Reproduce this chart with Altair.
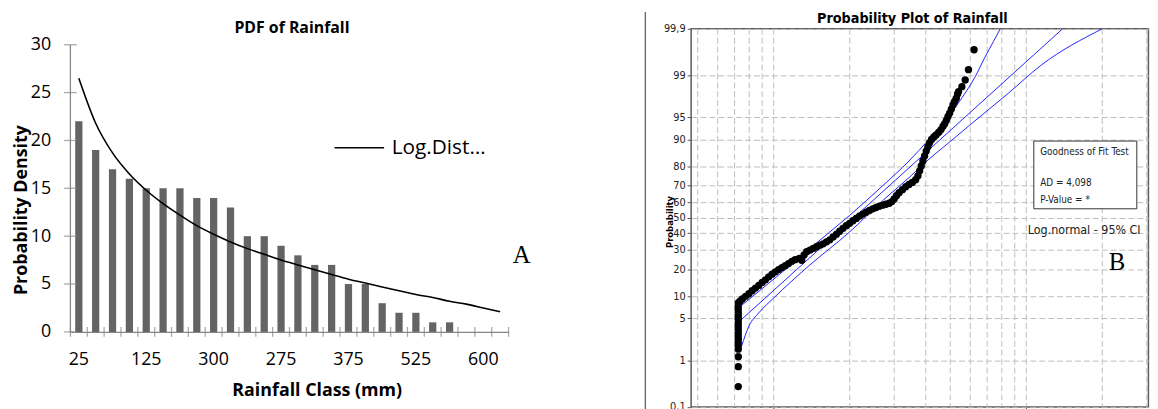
import json
from statistics import NormalDist

import altair as alt
import pandas as pd

# ---------------- Panel A : PDF of Rainfall ----------------
class_index = list(range(26))
class_tick_positions = [0, 4, 8, 12, 16, 20, 24]
class_tick_labels = ["25", "125", "300", "275", "375", "525", "600"]
bar_density = [22, 19, 17, 16, 15, 15, 15, 14, 14, 13, 10, 10, 9, 8, 7, 7, 5, 5, 3, 2, 2, 1, 1]
lognormal_density = [26.5, 21.8, 18.7, 16.5, 14.8, 13.4, 12.2, 11.1, 10.2, 9.4, 8.7, 8.1, 7.5,
                     7.0, 6.5, 6.0, 5.5, 5.1, 4.7, 4.3, 3.9, 3.6, 3.2, 2.9, 2.5, 2.1]
density_ticks = [0, 5, 10, 15, 20, 25, 30]
legend_label = "Log.Dist…"
title_a = "PDF of Rainfall"

# ---------------- Panel B : Probability plot ----------------
stack_mm = [72.4, 72.4, 72.4, 72.4, 72.4, 72.4, 72.4, 72.4, 72.4,
            72.4, 72.4, 72.4, 72.4, 72.4, 72.4, 72.4, 72.4, 72.4]
stack_pct = [0.29, 0.75, 1.16, 1.59, 1.82, 2.08, 2.36, 2.68, 3.03,
             3.42, 3.85, 4.33, 4.85, 5.40, 6.02, 6.69, 7.42, 8.21]
band_mm = [73.5, 75.1, 77.4, 79.8, 82.2, 84.7, 87.3, 90.0, 92.7, 95.6,
           98.5, 101.5, 104.6, 107.8, 111.1, 114.5, 118.0, 121.6, 126.4, 129.1,
           131.9, 135.1, 139.2, 143.4, 147.8, 152.4, 157.0, 161.8, 166.8, 171.9,
           177.2, 182.5, 188.1, 193.9, 199.8, 205.9, 212.2, 218.7, 225.4, 232.3,
           239.3, 246.6, 254.2, 261.9, 270.0, 278.2, 286.7, 293.7, 299.9, 306.3,
           313.7, 323.3, 333.3, 343.5, 353.9, 364.8, 372.5, 378.2, 383.9, 389.7,
           395.7, 401.7, 407.7, 414.0, 421.5, 430.5, 439.5, 450.3, 459.8, 468.3,
           475.4, 482.6, 489.9, 497.3, 504.9, 512.6, 520.3, 528.3, 534.6, 539.5,
           555.9, 573.0, 590.4, 621.4]
band_pct = [8.63, 9.24, 9.98, 10.75, 11.68, 12.55, 13.46, 14.55, 15.55, 16.75,
            17.85, 18.86, 19.88, 20.81, 21.74, 22.72, 23.86, 24.70, 25.40, 24.38,
            27.16, 28.98, 29.91, 30.85, 31.81, 32.78, 33.55, 34.75, 35.95, 37.79,
            39.43, 41.31, 43.21, 44.91, 46.41, 48.13, 49.64, 51.16, 52.45, 53.73,
            54.80, 55.87, 56.72, 57.57, 58.20, 58.83, 59.46, 60.50, 62.15, 64.18,
            65.97, 67.75, 69.46, 70.77, 71.88, 73.31, 75.41, 77.88, 80.20, 82.38,
            84.40, 86.26, 87.74, 89.00, 89.99, 90.72, 91.25, 91.92, 92.55, 93.28,
            93.82, 94.45, 95.14, 95.66, 96.23, 96.77, 97.14, 97.48, 97.86, 98.05,
            98.40, 98.79, 99.23, 99.70]
fit_mm = [74.7, 1392.0]
fit_pct = [4.86, 99.9]
upper_mm = [74.7, 103.0, 139.2, 199.8, 270.0, 343.5, 411.5, 492.8, 555.9, 627.1, 686.4, 740.1, 789.0]
upper_pct = [7.66, 16.9, 30.9, 51.6, 70.0, 82.4, 90.0, 95.1, 97.5, 98.94, 99.57, 99.80, 99.9]
lower_mm = [74.7, 79.8, 87.3, 100.0, 139.2, 199.8, 270.0, 343.5, 411.5, 492.8, 590.4, 847.2, 1144.6, 1998.0]
lower_pct = [1.82, 3.85, 6.02, 9.51, 22.1, 40.9, 61.1, 74.5, 83.1, 89.0, 93.3, 97.9, 99.37, 99.9]
prob_ticks = [0.1, 1, 5, 10, 20, 30, 40, 50, 60, 70, 80, 90, 95, 99, 99.9]
rain_grid_mm = [50, 60, 70, 80, 90, 100, 200, 300, 400, 500, 600, 700, 800, 900, 1000, 2000, 3000]
rain_major_mm = [100, 1000]
gof_lines = ["Goodness of Fit Test", "AD = 4,098", "P-Value = *"]
title_b = "Probability Plot of  Rainfall"

# ---------------- layout / style ----------------
A_W, A_H = 442.4, 306
B_W, B_H = 461.7, 381.7
FONT_A = "Open Sans"
FONT_B = "Liberation Sans Narrow, DejaVu Sans Condensed, Liberation Sans, sans-serif"
AXIS_GRAY = "#878787"
GRID_GRAY = "#bdbdbd"

# ---------- Panel A ----------
cls_scale = alt.Scale(domain=class_index, paddingInner=0, paddingOuter=0)
dens_scale = alt.Scale(domain=[0, 31.66], nice=False, zero=True)
label_expr_a = (f"{json.dumps(class_tick_labels)}"
                f"[indexof({json.dumps(class_tick_positions)}, datum.value)]")
x_axis_a = alt.Axis(values=class_tick_positions, labelExpr=label_expr_a, labelAngle=0,
                    labelFont=FONT_A, labelFontSize=18, labelColor="#000000", labelPadding=19,
                    ticks=False, tickSize=0, domainColor=AXIS_GRAY, domainWidth=1.3,
                    title="Rainfall Class (mm)", titleFont=FONT_A, titleFontSize=18,
                    titleFontWeight="bold", titleColor="#000000", titleX=248.7, titleY=59,
                    titleAlign="center", titleBaseline="middle")
y_axis_a = alt.Axis(values=density_ticks, domain=False, ticks=False, tickSize=0, grid=False,
                    labelFont=FONT_A, labelFontSize=18, labelColor="#000000", labelPadding=20,
                    title="Probability Density", titleFont=FONT_A, titleFontSize=18,
                    titleFontWeight="bold", titleColor="#000000", titleAngle=270,
                    titleX=-49.7, titleY=182.5, titleAlign="center", titleBaseline="middle")


def xa(**kw):
    return alt.X("cls:O", scale=cls_scale, axis=x_axis_a, **kw)


def ya(field):
    return alt.Y(f"{field}:Q", scale=dens_scale, axis=y_axis_a)


bars_df = pd.DataFrame({"cls": class_index[:len(bar_density)], "density": bar_density})
curve_df = pd.DataFrame({"cls": class_index, "density": lognormal_density, "series": legend_label})
ytick_df = pd.DataFrame({"density": density_ticks})
yline_df = pd.DataFrame({"lo": [density_ticks[0]], "hi": [density_ticks[-1]]})
xtick_df = pd.DataFrame({"cls": class_index})
xtick_end_df = pd.DataFrame({"cls": class_index[-1:]})

bars = alt.Chart(bars_df).mark_bar(color="#646464", width=alt.RelativeBandSize(0.43)).encode(
    x=xa(), y=ya("density"))
curve = alt.Chart(curve_df).mark_line(strokeWidth=1.6, interpolate="monotone").encode(
    x=xa(), y=ya("density"),
    color=alt.Color("series:N", scale=alt.Scale(domain=[legend_label], range=["#000000"]),
                    legend=alt.Legend(orient="none", legendX=265.7, legendY=94, title=None,
                                      symbolType="stroke", symbolSize=2500, symbolStrokeWidth=1.6,
                                      labelFont=FONT_A, labelFontSize=21, labelColor="#000000",
                                      labelOffset=6.7)))
yline = alt.Chart(yline_df).mark_rule(color=AXIS_GRAY, strokeWidth=1.3).encode(
    x=alt.value(0), y=ya("lo"), y2="hi:Q")
yticks = alt.Chart(ytick_df).mark_tick(orient="horizontal", size=13, thickness=1.3,
                                       color=AXIS_GRAY).encode(x=alt.value(0), y=ya("density"))
xticks = alt.Chart(xtick_df).mark_tick(orient="vertical", size=10, thickness=1.3,
                                       color=AXIS_GRAY).encode(x=xa(bandPosition=0), y=alt.value(A_H))
xtick_end = alt.Chart(xtick_end_df).mark_tick(orient="vertical", size=10, thickness=1.3,
                                              color=AXIS_GRAY).encode(x=xa(bandPosition=1), y=alt.value(A_H))
label_a = alt.Chart(pd.DataFrame({"t": ["A"]})).mark_text(
    font="Liberation Serif", fontSize=25, color="#000000", align="center", baseline="middle").encode(
    x=alt.value(455.7), y=alt.value(228), text="t:N")
head_a = alt.Chart(pd.DataFrame({"t": [title_a]})).mark_text(
    font=FONT_A, fontSize=16, fontWeight="bold", color="#000000", align="center",
    baseline="middle").encode(x=alt.value(223.7), y=alt.value(-1), text="t:N")

chart_a = alt.layer(bars, curve, yline, yticks, xticks, xtick_end, label_a, head_a).properties(
    width=A_W, height=A_H)

# ---------- Panel B ----------
z_top = NormalDist().inv_cdf(prob_ticks[-1] / 100)
z_bottom = NormalDist().inv_cdf(prob_ticks[0] / 100)
z_ticks = [NormalDist().inv_cdf(p / 100) for p in prob_ticks]
mm_scale = alt.Scale(type="log", domain=[47.1, 3045], nice=False)
z_scale = alt.Scale(domain=[z_bottom, z_top], nice=False, zero=False)

x_axis_b = alt.Axis(values=rain_major_mm, domain=False, grid=False, tickSize=5, tickColor="#555555",
                    labels=False, title=None)
y_axis_b = alt.Axis(values=z_ticks, domain=False, tickSize=4, tickColor="#555555",
                    grid=True, gridDash=[6, 3], gridColor=GRID_GRAY, gridWidth=1,
                    labelExpr="replace(toString(round(cumulativeNormal(datum.value) * 1000) / 10), '.', ',')",
                    labelFont=FONT_B, labelFontSize=11, labelColor="#222222", labelPadding=2,
                    title=None)
xb = alt.X("mm:Q", scale=mm_scale, axis=x_axis_b)
yb = alt.Y("z:Q", scale=z_scale, axis=y_axis_b)
z_calc = "quantileNormal(datum.pct / 100)"

points_df = pd.DataFrame({"mm": stack_mm + band_mm, "pct": stack_pct + band_pct})
ci_df = pd.concat([
    pd.DataFrame({"mm": fit_mm, "pct": fit_pct, "series": "fit"}),
    pd.DataFrame({"mm": upper_mm, "pct": upper_pct, "series": "upper"}),
    pd.DataFrame({"mm": lower_mm, "pct": lower_pct, "series": "lower"}),
], ignore_index=True)
grid_df = pd.DataFrame({"mm": rain_grid_mm})
one = pd.DataFrame({"k": [0]})

xgrid = alt.Chart(grid_df).mark_rule(color=GRID_GRAY, strokeWidth=1, strokeDash=[6, 3]).encode(x=xb)
ci = alt.Chart(ci_df).transform_calculate(z=z_calc).mark_line(
    color="#2323ff", strokeWidth=1, clip=True, interpolate="monotone").encode(
    x=xb, y=yb, detail="series:N")
pts = alt.Chart(points_df).transform_calculate(z=z_calc).mark_circle(
    size=55, color="#000000", opacity=1).encode(x=xb, y=yb)
box = alt.Chart(one).mark_rect(fill="#ffffff", stroke="#333333", strokeWidth=1).encode(
    x=alt.value(346), x2=alt.value(450), y=alt.value(113.3), y2=alt.value(181.7))
gof_y = [124, 156, 172.7]
gof_layers = [
    alt.Chart(pd.DataFrame({"t": [txt]})).mark_text(
        font=FONT_B, fontSize=10, color="#222222", align="left", baseline="middle").encode(
        x=alt.value(352.4), y=alt.value(yy), text="t:N")
    for txt, yy in zip(gof_lines, gof_y)
]
dist_text = alt.Chart(pd.DataFrame({"t": ["Log.normal - 95% CI"]})).mark_text(
    font=FONT_B, fontSize=12.5, color="#222222", align="center", baseline="middle").encode(
    x=alt.value(396.9), y=alt.value(202.7), text="t:N")
label_b = alt.Chart(pd.DataFrame({"t": ["B"]})).mark_text(
    font="Liberation Serif", fontSize=25, color="#000000", align="center", baseline="middle").encode(
    x=alt.value(430), y=alt.value(235), text="t:N")
prob_title = alt.Chart(pd.DataFrame({"t": ["Probability"]})).mark_text(
    font=FONT_B, fontSize=9.5, fontWeight="bold", color="#000000", angle=270,
    align="center", baseline="middle").encode(
    x=alt.value(-21), y=alt.value(195), text="t:N")
border = alt.Chart(one).mark_rule(color="#333333", strokeWidth=1).encode(
    x=alt.value(-46.3), y=alt.value(-17), y2=alt.value(400))
head_b = alt.Chart(pd.DataFrame({"t": [title_b]})).mark_text(
    font=FONT_B, fontSize=14.4, fontWeight="bold", color="#000000", align="center",
    baseline="middle").encode(x=alt.value(223.4), y=alt.value(-10.3), text="t:N")

chart_b = alt.layer(xgrid, ci, pts, box, *gof_layers, dist_text, label_b, prob_title, border,
                    head_b).properties(
    width=B_W, height=B_H,
    view=alt.ViewBackground(stroke="#5a5a5a", strokeWidth=1.5))

chart = alt.hconcat(chart_a, chart_b, spacing=112.7).properties(
    padding={"left": 3, "top": -1, "right": 0, "bottom": 0}, background="#ffffff"
).configure_view(stroke="transparent")

chart.save("out.html", embed_options={"renderer": "svg", "actions": False})
